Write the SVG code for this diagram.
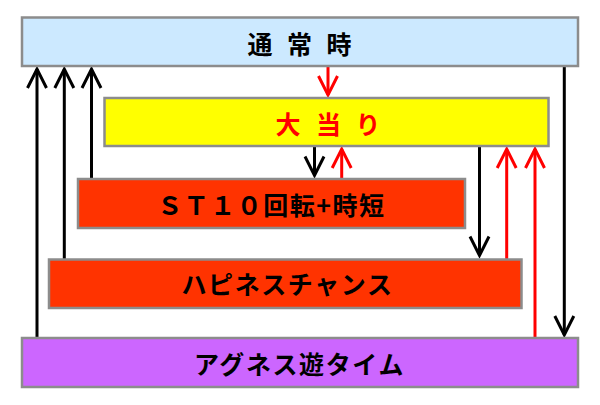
<svg xmlns="http://www.w3.org/2000/svg" width="600" height="405" viewBox="0 0 600 405">
<style>
.box{stroke:#8c8c8c;stroke-width:2.5}
.t{font-family:"Noto Sans CJK JP","Noto Sans",sans-serif;font-weight:bold;dominant-baseline:central;text-anchor:middle}
.k{fill:none;stroke:#000;stroke-width:3}
.r{fill:none;stroke:#ff0000;stroke-width:3}
</style>
<defs>
<marker id="hk" markerUnits="userSpaceOnUse" markerWidth="40" markerHeight="40" refX="0" refY="0" orient="auto" overflow="visible"><path d="M-19,-9.5 L0,0 L-19,9.5" fill="none" stroke="#000" stroke-width="3"/></marker>
<marker id="hr" markerUnits="userSpaceOnUse" markerWidth="40" markerHeight="40" refX="0" refY="0" orient="auto" overflow="visible"><path d="M-19,-9.5 L0,0 L-19,9.5" fill="none" stroke="#ff0000" stroke-width="3"/></marker>
</defs>
<rect width="600" height="405" fill="#fff"/>
<g id="connectors">
<line class="k" x1="37" y1="338" x2="37" y2="69" marker-end="url(#hk)"/>
<line class="k" x1="64.3" y1="259" x2="64.3" y2="69" marker-end="url(#hk)"/>
<line class="k" x1="91.5" y1="179" x2="91.5" y2="69" marker-end="url(#hk)"/>
<line class="r" x1="328" y1="66" x2="328" y2="95" marker-end="url(#hr)"/>
<line class="k" x1="314.5" y1="146" x2="314.5" y2="175.5" marker-end="url(#hk)"/>
<line class="r" x1="341.7" y1="179" x2="341.7" y2="149" marker-end="url(#hr)"/>
<line class="k" x1="479.5" y1="146" x2="479.5" y2="255.5" marker-end="url(#hk)"/>
<line class="r" x1="506.7" y1="259" x2="506.7" y2="149" marker-end="url(#hr)"/>
<line class="r" x1="535" y1="338" x2="535" y2="149" marker-end="url(#hr)"/>
<line class="k" x1="564.3" y1="66" x2="564.3" y2="335" marker-end="url(#hk)"/>
</g>
<g id="normal">
<rect class="box" x="22" y="17.5" width="556" height="48.5" fill="#cce9ff"/>
<text class="t" x="260 280 299.5 319 339" y="43" font-size="25" fill="#000">通 常 時</text>
</g>
<g id="jackpot">
<rect class="box" x="104.5" y="98" width="444" height="48" fill="#ffff00"/>
<text class="t" x="288 308 328.5 348 368" y="123" font-size="25" fill="#ff0000">大 当 り</text>
</g>
<g id="st10">
<rect class="box" x="78" y="179" width="387" height="49" fill="#ff3300"/>
<text class="t" x="271.5" y="204" font-size="25" letter-spacing="1.5" fill="#000">ＳＴ１０回転+時短</text>
</g>
<g id="happiness">
<rect class="box" x="49" y="259.5" width="472.5" height="48.5" fill="#ff3300"/>
<text class="t" x="287.5" y="283" font-size="25" letter-spacing="1.6" fill="#000">ハピネスチャンス</text>
</g>
<g id="agnes">
<rect class="box" x="22" y="338" width="556" height="49" fill="#cc66ff"/>
<text class="t" x="299.5" y="362.5" font-size="25" letter-spacing="1.6" fill="#000">アグネス遊タイム</text>
</g>
</svg>
